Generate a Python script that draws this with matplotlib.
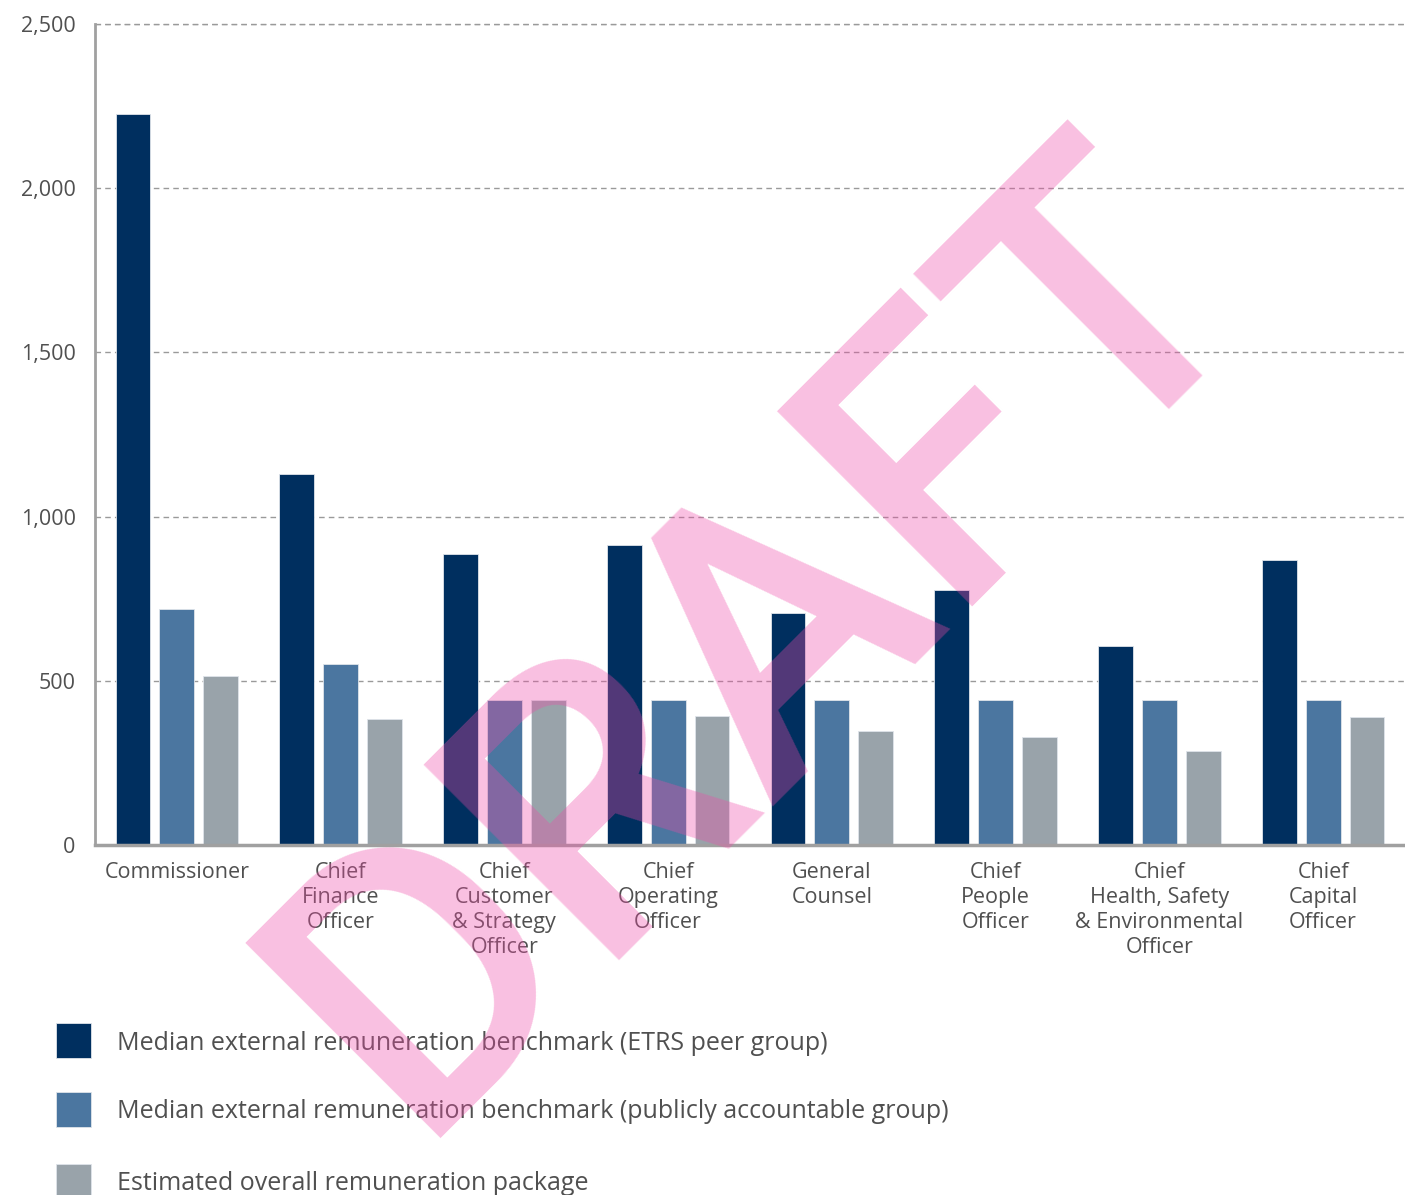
import matplotlib
matplotlib.use("Agg")
import matplotlib.pyplot as plt
import numpy as np
from matplotlib.patches import Rectangle

# values (thousands)
roles = ["Commissioner", "Chief\nFinance\nOfficer", "Chief\nCustomer\n& Strategy\nOfficer",
         "Chief\nOperating\nOfficer", "General\nCounsel", "Chief\nPeople\nOfficer",
         "Chief\nHealth, Safety\n& Environmental\nOfficer", "Chief\nCapital\nOfficer"]
etrs_median = [2225, 1130, 885, 915, 705, 775, 605, 868]
public_median = [720, 550, 441, 441, 441, 441, 441, 441]
estimated_package = [514, 383, 441, 392, 346, 329, 285, 390]

series_names = ["Median external remuneration benchmark (ETRS peer group)",
                "Median external remuneration benchmark (publicly accountable group)",
                "Estimated overall remuneration package"]
colors = ["#002f5f", "#4b76a0", "#99a3aa"]
yticks = [0, 500, 1000, 1500, 2000, 2500]
ytick_labels = ["0", "500", "1,000", "1,500", "2,000", "2,500"]

plt.rcParams['font.family'] = ['Open Sans', 'DejaVu Sans']
text_col = "#505050"

fig = plt.figure(figsize=(14.05, 11.95), dpi=100)
ax = fig.add_axes([95/1405, 1-845/1195, 1-95/1405, (845-24)/1195])

x = np.arange(len(roles))
w = 0.213
off = 0.268
for i, (vals, col) in enumerate(zip([etrs_median, public_median, estimated_package], colors)):
    ax.bar(x + (i-1)*off, vals, width=w, color=col, edgecolor="#dfe4ea", linewidth=0.6, zorder=2)

ax.set_xlim(-0.5, len(roles)-0.5)
ax.set_ylim(0, 2500)
ax.set_yticks(yticks)
ax.set_yticklabels(ytick_labels)
ax.set_xticks(x)
ax.set_xticklabels(roles, linespacing=1.25)
ax.tick_params(axis='both', length=0, labelsize=15.5, labelcolor=text_col)
ax.tick_params(axis='y', pad=14)
ax.tick_params(axis='x', pad=12)

ax.yaxis.grid(True, linestyle=(0, (4, 3)), color="#9a9a9a", linewidth=1)
ax.set_axisbelow(True)
for s in ["top", "right"]:
    ax.spines[s].set_visible(False)
ax.spines["left"].set_color("#a0a0a0")
ax.spines["left"].set_linewidth(2)
ax.spines["bottom"].set_color("#a0a0a0")
ax.spines["bottom"].set_linewidth(2.5)
ax.axhline(2500, linestyle=(0, (4, 3)), color="#9a9a9a", linewidth=1, clip_on=False, zorder=1)

# legend drawn by hand
ys = [1040, 1109, 1181]
for name, col, yc in zip(series_names, colors, ys):
    fig.add_artist(Rectangle((56/1405, 1-(yc+17.5)/1195), 35/1405, 35/1195,
                             facecolor=col, edgecolor="#dfe4ea", linewidth=0.6,
                             transform=fig.transFigure))
    fig.text(117/1405, 1-(yc+3)/1195, name, fontsize=18, color=text_col,
             va='center', ha='left')

# DRAFT watermark
fig.text(0.5423, 0.4661, "DRAFT", fontsize=279, color="#f04ba8", alpha=0.35,
         rotation=45, rotation_mode='anchor', ha='center', va='center',
         fontweight='medium', family='Roboto', zorder=10)

fig.savefig("out.png", dpi=100)
